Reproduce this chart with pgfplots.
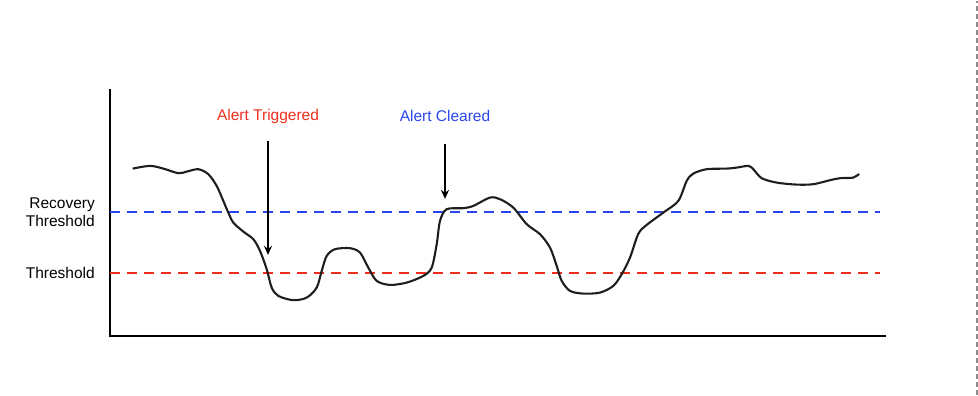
\documentclass[border=0pt]{standalone}
\usepackage{fontspec}
\setmainfont{Liberation Sans}
\usepackage{pgfplots}
\pgfplotsset{compat=1.18}
\usetikzlibrary{arrows.meta}
\definecolor{alertred}{RGB}{240,45,30}
\definecolor{alertblue}{RGB}{40,70,235}
\definecolor{curvecol}{RGB}{30,30,30}
\definecolor{bordergray}{RGB}{140,140,140}
\begin{document}
\begin{tikzpicture}
\begin{axis}[
  width=978bp, height=394bp, scale only axis,
  xmin=0, xmax=978, ymin=0, ymax=394,
  hide axis, clip=false,
  font=\fontsize{15.5bp}{18bp}\selectfont,
]
% frame extent
\addplot[draw=none] coordinates {(0,0) (978,394)};
% gray dashed border at right
\addplot[color=bordergray, line width=1.8bp, dash pattern=on 5bp off 3bp] coordinates {(977,0) (977,394)};
% axis lines
\addplot[color=black, line width=1.8bp] coordinates {(110,306) (110,59) (886,59)};
% thresholds
\addplot[color=alertblue, line width=1.9bp, dash pattern=on 10bp off 7bp] coordinates {(110,183) (880,183)};
\addplot[color=alertred, line width=1.9bp, dash pattern=on 10bp off 7bp] coordinates {(110,122) (880,122)};
% signal curve
\addplot[color=curvecol, line width=2.1bp, smooth, tension=0.5] coordinates {
(132.7,226.3) (150,229) (163.3,226.3) (178.3,221.7) (186.7,223.3) (198.3,225.7)
(208.3,220.7) (216.7,209) (223.3,194) (228.3,182.3) (233.3,172.3) (243.3,163.3)
(253.3,155.7) (260,144) (266.7,125.7) (271.7,107.3) (278.3,99) (293.3,94.7)
(306.7,97.3) (316.7,107.3) (321.7,124) (326.7,139) (335,145.7) (350,146.7)
(360,142.3) (368.3,127.3) (376.7,114) (390,110) (406.7,112.3) (423.3,119)
(431.7,127.3) (436.7,150.7) (440,174) (446.7,185.7) (463.3,186.7) (473.3,189)
(490,197.3) (500,195.7) (513.3,187.3) (526.7,170.7) (540,160.7) (550,147.3)
(556.7,129) (561.7,114) (570,104) (583.3,101.3) (600,102.3) (613.3,109)
(621.7,120.7) (630,137.3) (638.3,161) (646.7,170) (663.3,182.3) (678.3,194)
(686.7,214) (693.3,221.3) (706.7,225.7) (726.7,226.3) (736.7,227.3) (748.3,229)
(753.3,225.7) (761.7,216.7) (776.7,212.3) (796.7,210.3) (813.3,210.7) (830,214.7)
(840,216.7) (853.3,217.3) (859,221)
};
% arrows
\addplot[color=black, line width=1.7bp, -{Stealth[length=9bp,width=8bp]}] coordinates {(268,254) (268,140)} ;
\addplot[color=black, line width=1.7bp, -{Stealth[length=9bp,width=8bp]}] coordinates {(445,251) (445,196)};
% labels
\node[text=alertred] at (axis cs:268,278) {Alert Triggered};
\node[text=alertblue] at (axis cs:445,279) {Alert Cleared};
\node[anchor=east, align=right, inner sep=0pt] at (axis cs:95,183) {Recovery\\Threshold};
\node[anchor=east, inner sep=0pt] at (axis cs:95,122) {Threshold};
\end{axis}
\end{tikzpicture}
\end{document}
